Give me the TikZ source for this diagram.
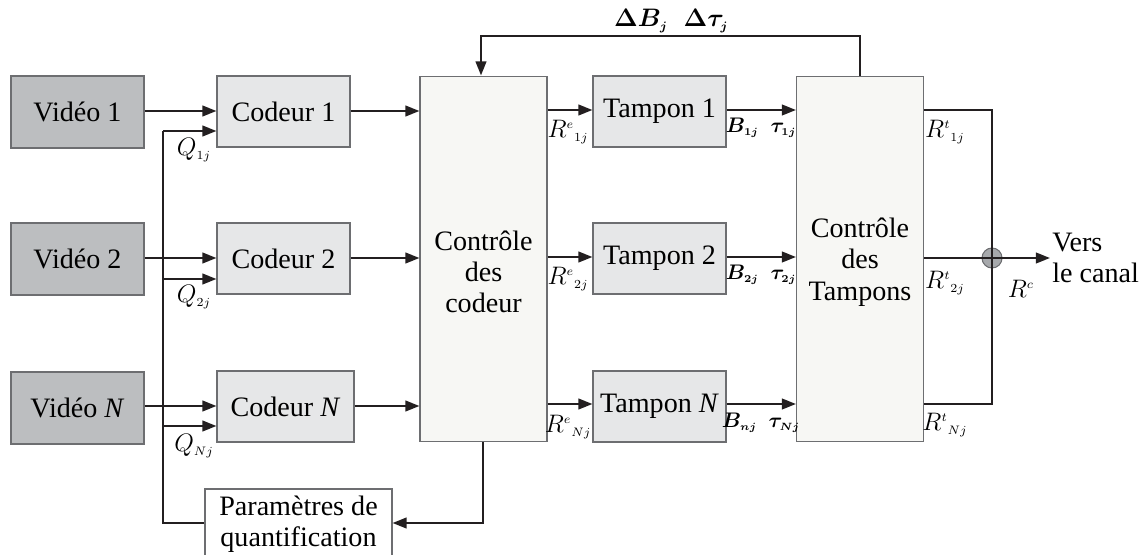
\documentclass[tikz,border=0pt]{standalone}
\usepackage{fontspec}
\setmainfont{Liberation Serif}
\usepackage{bm}
\usetikzlibrary{arrows.meta}
\definecolor{vidfill}{HTML}{BCBEC0}
\definecolor{codfill}{HTML}{E6E7E8}
\definecolor{ctlfill}{HTML}{F7F7F4}
\definecolor{bordc}{HTML}{6D6E71}
\definecolor{linec}{HTML}{231F20}
\definecolor{sumfill}{HTML}{A7A9AC}
\begin{document}
\begin{tikzpicture}[x=0.02cm,y=-0.02cm,
  box/.style={draw=bordc, line width=0.6pt, inner sep=0pt, font=\fontsize{16}{17.8}\selectfont, align=center},
  vidbox/.style={box, fill=vidfill, minimum width=2.66cm, minimum height=1.44cm},
  codbox/.style={box, fill=codfill, minimum width=2.66cm, minimum height=1.42cm},
  ctlbox/.style={box, fill=ctlfill, minimum width=2.54cm, minimum height=7.32cm},
  txt/.style={font=\fontsize{16}{17.8}\selectfont, align=center, inner sep=0pt},
  lbl/.style={font=\fontsize{14}{16}\selectfont, inner sep=0pt},
  conn/.style={line width=1.3pt, draw=linec},
  arr/.style={conn, -{Triangle[length=8pt,width=6pt]}}]
\useasboundingbox (0,0) rectangle (1145,554);

% sources
\node[vidbox] (v1) at (77.5,112) {Vidéo 1};
\node[vidbox] (v2) at (77.5,259) {Vidéo 2};
\node[vidbox] (vn) at (77.5,408) {Vidéo \textit{N}};

% coders
\node[codbox] (c1) at (283.5,111.5) {Codeur 1};
\node[codbox] (c2) at (283.5,258.5) {Codeur 2};
\node[codbox, minimum width=2.74cm] (cn) at (285.5,406.5) {Codeur \textit{N}};

% controllers
\node[ctlbox] (cc) at (483.5,259) {};
\node[txt] (cct) at (483.5,272) {Contrôle\\des\\codeur};
\node[ctlbox] (ct) at (860,259) {};
\node[txt] (ctt) at (860,262) {Contrôle\\des\\Tampons};

% buffers
\node[codbox] (t1) at (659.5,111.5) {Tampon 1};
\node[codbox] (t2) at (659.5,258.5) {Tampon 2};
\node[codbox] (tn) at (659.5,406.5) {Tampon \textit{N}};

% quantization parameters
\node[box, fill=white, minimum width=3.74cm, minimum height=1.40cm] (qp) at (298.5,524) {Paramètres de\\quantification};

% video -> coder
\draw[arr] (v1.east |- 0,111) -- (c1.west |- 0,111);
\draw[arr] (v2.east |- 0,258) -- (c2.west |- 0,258);
\draw[arr] (vn.east |- 0,406) -- (cn.west |- 0,406);

% quantization feedback
\coordinate (q1) at (163,131);
\coordinate (q2) at (163,279);
\coordinate (qn) at (163,426);
\coordinate (qb) at (163,523);
\draw[conn] (q1) -- (qb) -- (qp.west |- qb);
\draw[arr] (q1) -- (q1 -| c1.west);
\draw[arr] (q2) -- (q2 -| c2.west);
\draw[arr] (qn) -- (qn -| cn.west);
\node[lbl] (lq1) at (194,150) {$Q_{\scriptscriptstyle 1j}$};
\node[lbl] (lq2) at (194,297) {$Q_{\scriptscriptstyle 2j}$};
\node[lbl] (lqn) at (194,446) {$Q_{\scriptscriptstyle Nj}$};

% coder -> controller
\draw[arr] (c1.east |- 0,111) -- (cc.west |- 0,111);
\draw[arr] (c2.east |- 0,258) -- (cc.west |- 0,258);
\draw[arr] (cn.east |- 0,406) -- (cc.west |- 0,406);

% controller -> quantization parameters
\coordinate (cb) at (483,523);
\draw[arr] (cc.south -| cb) -- (cb) -- (qp.east |- cb);

% controller -> buffers
\draw[arr] (cc.east |- 0,110) -- (t1.west |- 0,110);
\draw[arr] (cc.east |- 0,257) -- (t2.west |- 0,257);
\draw[arr] (cc.east |- 0,404) -- (tn.west |- 0,404);
\node[lbl] (re1) at (568,132) {$R^{\scriptscriptstyle e}{}_{\scriptscriptstyle 1j}$};
\node[lbl] (re2) at (568,279) {$R^{\scriptscriptstyle e}{}_{\scriptscriptstyle 2j}$};
\node[lbl] (ren) at (568,427) {$R^{\scriptscriptstyle e}{}_{\scriptscriptstyle Nj}$};

% buffers -> buffer control
\draw[arr] (t1.east |- 0,110) -- (ct.west |- 0,110);
\draw[arr] (t2.east |- 0,257) -- (ct.west |- 0,257);
\draw[arr] (tn.east |- 0,404) -- (ct.west |- 0,404);
\node[lbl, font=\fontsize{12.5}{14}\selectfont] (b1) at (761,128) {$\bm{B_{\scriptscriptstyle 1j}}\;\;\bm{\tau_{\scriptscriptstyle 1j}}$};
\node[lbl, font=\fontsize{12.5}{14}\selectfont] (b2) at (761,275) {$\bm{B_{\scriptscriptstyle 2j}}\;\;\bm{\tau_{\scriptscriptstyle 2j}}$};
\node[lbl, font=\fontsize{12.5}{14}\selectfont] (bn) at (761,423) {$\bm{B_{\scriptscriptstyle nj}}\;\;\bm{\tau_{\scriptscriptstyle Nj}}$};

% feedback from buffer control to coder control
\coordinate (fb1) at (860,36);
\coordinate (fb2) at (481,36);
\draw[arr] (ct.north) -- (fb1) -- (fb2) -- (cc.north -| fb2);
\node[lbl] (dB) at (641,21) {$\bm{\Delta B_{\scriptscriptstyle j}}$};
\node[lbl] (dt) at (706,21) {$\bm{\Delta\tau_{\scriptscriptstyle j}}$};

% output combination
\node[circle, draw=bordc, line width=0.6pt, fill=sumfill, minimum size=20*0.02cm, inner sep=0pt] (sum) at (992,258) {};
\coordinate (o1) at (992,110);
\coordinate (on) at (992,404);
\draw[conn] (ct.east |- o1) -- (o1) -- (on) -- (ct.east |- on);
\draw[conn] (ct.east |- sum) -- (sum.center);
\coordinate (out) at (1050,258);
\draw[arr] (sum.center) -- (out);
\node[txt, anchor=west, align=left] (dest) at (1052,258) {Vers\\le canal};
\node[lbl] (rt1) at (945,132) {$R^{\scriptscriptstyle t}{}_{\scriptscriptstyle 1j}$};
\node[lbl] (rt2) at (945,283) {$R^{\scriptscriptstyle t}{}_{\scriptscriptstyle 2j}$};
\node[lbl] (rtn) at (945,425) {$R^{\scriptscriptstyle t}{}_{\scriptscriptstyle Nj}$};
\node[lbl] (rc) at (1021,289) {$R^{\scriptscriptstyle c}$};
\end{tikzpicture}
\end{document}
